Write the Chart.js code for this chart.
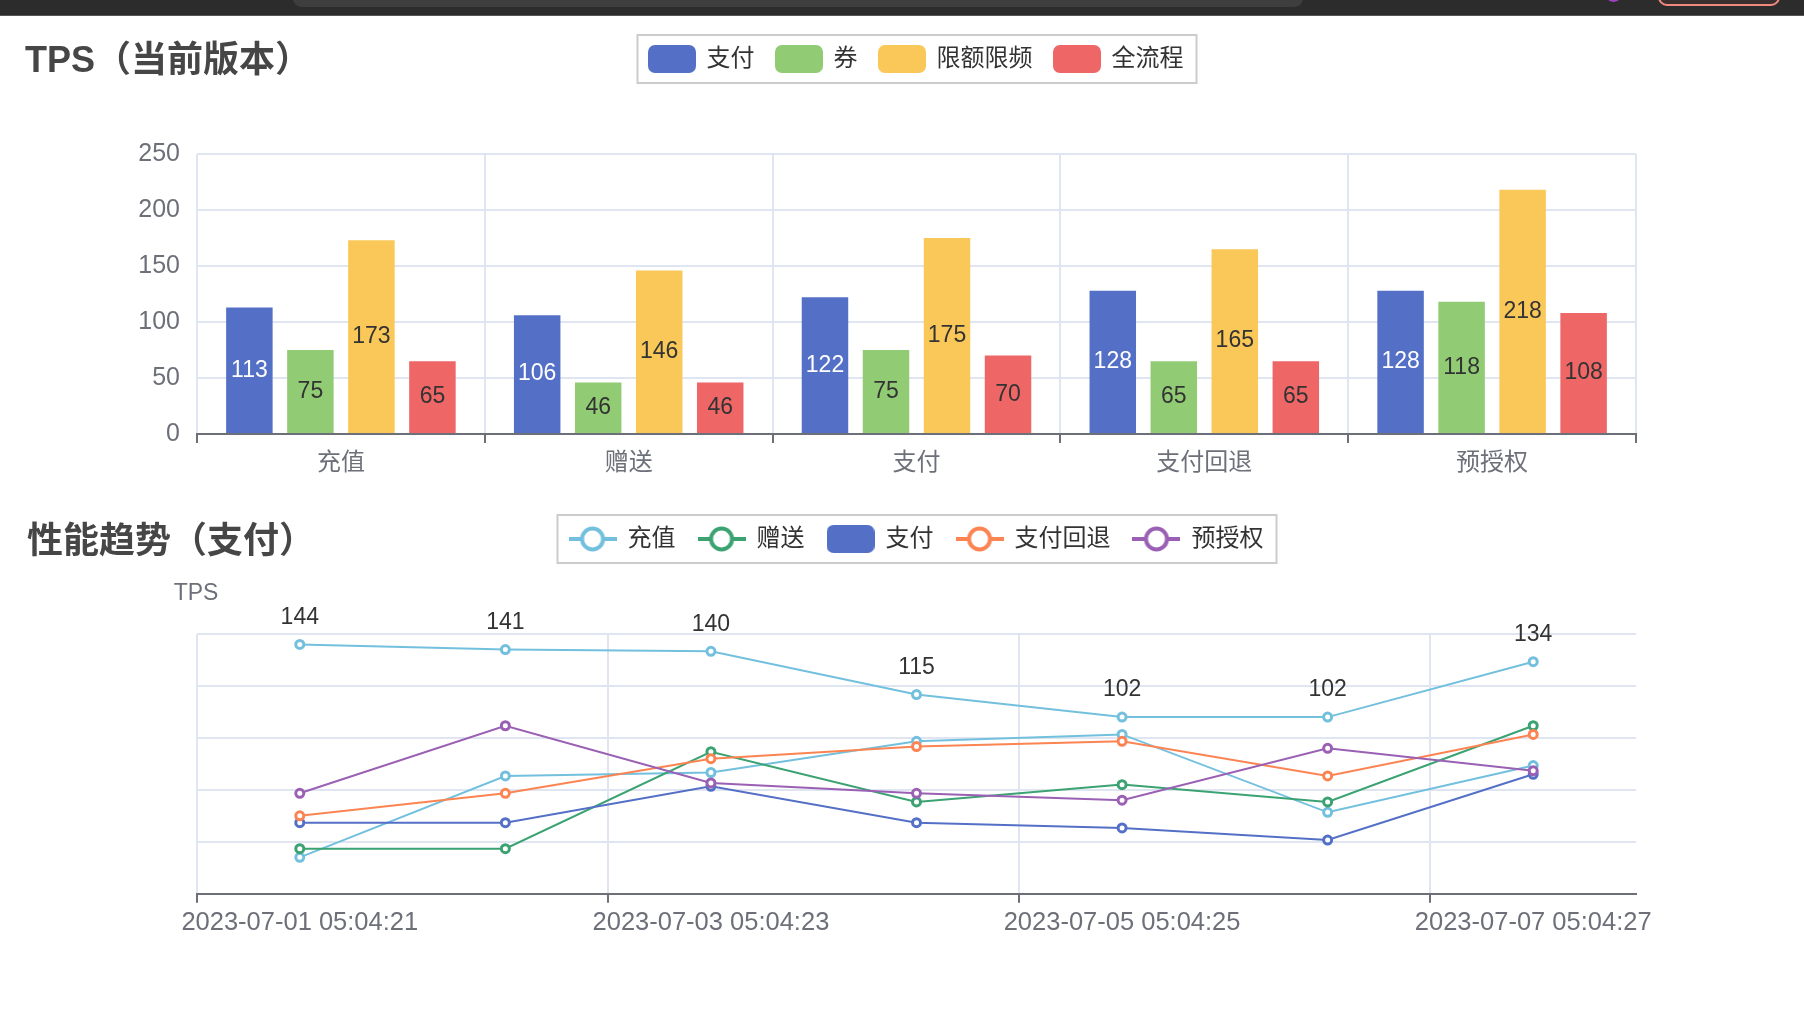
<!DOCTYPE html>
<html>
<head>
<meta charset="utf-8">
<script src="https://cdn.jsdelivr.net/npm/chart.js@4.4.0/dist/chart.umd.min.js"></script>
<style>
html,body{margin:0;padding:0;background:#fff;width:1804px;height:1015px;overflow:hidden;}
#chrome{position:absolute;left:0;top:0;width:1804px;height:16px;background:#2c2c2c;border-bottom:1px solid #555;box-sizing:border-box;z-index:3;overflow:hidden;}
#chrome .addr{position:absolute;left:293px;top:-10px;width:1010px;height:17px;background:#3e3e3e;border-radius:10px;}
#chrome .dot{position:absolute;left:1607px;top:-8px;width:13px;height:10px;background:#a040c0;border-radius:50%;}
#chrome .btn{position:absolute;left:1658px;top:-12px;width:122px;height:18px;background:#3a2f2f;border:2px solid #f08a80;border-radius:12px;box-sizing:border-box;}
#c1{position:absolute;left:0;top:0;}
#c2{position:absolute;left:0;top:490px;}
</style>
</head>
<body>
<div id="chrome"><div class="addr"></div><div class="dot"></div><div class="btn"></div></div>
<canvas id="c1" width="1804" height="490"></canvas>
<canvas id="c2" width="1804" height="525"></canvas>
<script>
// ---------- data: bar chart ----------
const barTitle = 'TPS（当前版本）';
const barCategories = ['充值', '赠送', '支付', '支付回退', '预授权'];
const barSeriesNames = ['支付', '券', '限额限频', '全流程'];
const barPay = [113, 106, 122, 128, 128];
const barCoupon = [75, 46, 75, 65, 118];
const barLimit = [173, 146, 175, 165, 218];
const barFlow = [65, 46, 70, 65, 108];
const barYMin = 0, barYMax = 250, barYStep = 50;

// ---------- data: trend chart ----------
const trendTitle = '性能趋势（支付）';
const trendAxisName = 'TPS';
const trendTimes = ['2023-07-01 05:04:21', '2023-07-02 05:04:22', '2023-07-03 05:04:23', '2023-07-04 05:04:24', '2023-07-05 05:04:25', '2023-07-06 05:04:26', '2023-07-07 05:04:27'];
const trendSeriesNames = ['充值', '赠送', '支付', '支付回退', '预授权'];
const trendRecharge = [21, 68, 70, 88, 92, 47, 74];
const trendGift = [26, 26, 82, 53, 63, 53, 97];
const trendPay = [41, 41, 62, 41, 38, 31, 69];
const trendRefund = [45, 58, 78, 85, 88, 68, 92];
const trendPreauth = [58, 97, 64, 58, 54, 84, 71];
const trendTotal = [144, 141, 140, 115, 102, 102, 134];
const trendYMin = 0, trendYMax = 150, trendYStep = 30;

// ---------- styling ----------
const FONT = "'Liberation Sans','Noto Sans CJK SC',sans-serif";
Chart.defaults.font.family = FONT;
const AXIS = '#6e7079', GRID = '#e0e6f1';
const barColors = ['#5470c6', '#91cc75', '#fac858', '#ee6666'];
const barLabelColors = ['#ffffff', '#333333', '#333333', '#333333'];
const lineColors = ['#73c0de', '#3ba272', '#5470c6', '#fc8452', '#9a60b4'];

function roundRectPath(g, x, y, w, h, r) {
  g.beginPath();
  g.moveTo(x + r, y);
  g.lineTo(x + w - r, y); g.arcTo(x + w, y, x + w, y + r, r);
  g.lineTo(x + w, y + h - r); g.arcTo(x + w, y + h, x + w - r, y + h, r);
  g.lineTo(x + r, y + h); g.arcTo(x, y + h, x, y + h - r, r);
  g.lineTo(x, y + r); g.arcTo(x, y, x + r, y, r);
  g.closePath();
}
function rectIcon(color) {
  const c = document.createElement('canvas'); c.width = 48; c.height = 28;
  const g = c.getContext('2d'); g.fillStyle = color; roundRectPath(g, 0, 0, 48, 28, 7); g.fill();
  return c;
}
function lineIcon(color) {
  const c = document.createElement('canvas'); c.width = 48; c.height = 28;
  const g = c.getContext('2d');
  g.strokeStyle = color; g.lineWidth = 4;
  g.beginPath(); g.moveTo(0, 14); g.lineTo(48, 14); g.stroke();
  g.beginPath(); g.arc(24, 14, 10.5, 0, Math.PI * 2); g.fillStyle = '#fff'; g.fill(); g.stroke();
  return c;
}

// legend height override + frame
const legendFrame = {
  id: 'legendFrame',
  beforeLayout(chart, args, opts) {
    const lg = chart.legend;
    if (lg && !lg._patched) {
      const f = lg.fit;
      lg.fit = function () { f.call(this); this.height = opts.height; };
      lg._patched = true;
    }
  },
  afterDraw(chart, args, opts) {
    const hb = chart.legend && chart.legend.legendHitBoxes;
    if (!hb || !hb.length) return;
    const l = Math.min(...hb.map(h => h.left)) - opts.padLeft;
    const r = Math.max(...hb.map(h => h.left + h.width)) + opts.padRight;
    const cy = hb[0].top + hb[0].height / 2;
    const g = chart.ctx;
    g.save(); g.strokeStyle = '#cccccc'; g.lineWidth = 2;
    g.strokeRect(Math.round(l) + 0.5, Math.round(cy - 24), Math.round(r - l), 48);
    g.restore();
  }
};
const titleText = {
  id: 'titleText',
  afterDraw(chart, args, o) {
    const g = chart.ctx; g.save();
    g.font = 'bold 36px ' + FONT; g.fillStyle = '#464646';
    g.textBaseline = 'middle'; g.textAlign = 'left';
    g.fillText(o.text, o.x, o.y);
    if (o.axisName) {
      g.font = '23px ' + FONT; g.fillStyle = AXIS; g.textAlign = 'center';
      g.fillText(o.axisName, chart.chartArea.left - 1, chart.chartArea.top + o.axisNameDy);
    }
    g.restore();
  }
};
const valueLabels = {
  id: 'valueLabels',
  afterDatasetsDraw(chart, args, o) {
    const g = chart.ctx; g.save();
    g.font = o.size + 'px ' + FONT; g.textAlign = 'center'; g.textBaseline = 'middle';
    chart.data.datasets.forEach((ds, i) => {
      if (!ds.showValues) return;
      const meta = chart.getDatasetMeta(i);
      g.fillStyle = ds.valueColor;
      meta.data.forEach((el, j) => {
        const p = el.getProps(['x', 'y', 'base'], true);
        const y = o.mode === 'inside' ? (p.y + p.base) / 2 : p.y - o.dy;
        g.fillText(String(ds.data[j]), p.x, y);
      });
    });
    g.restore();
  }
};

// ---------- chart 1: bars ----------
const barData = [barPay, barCoupon, barLimit, barFlow];
const barIcons = barColors.map(rectIcon);
new Chart(document.getElementById('c1'), {
  type: 'bar',
  data: {
    labels: barCategories,
    datasets: barSeriesNames.map((name, i) => ({
      label: name, data: barData[i], backgroundColor: barColors[i],
      categoryPercentage: 0.848, barPercentage: 0.762,
      showValues: true, valueColor: barLabelColors[i]
    }))
  },
  options: {
    responsive: false, animation: false, devicePixelRatio: 1,
    layout: { padding: { top: 25, left: 0, right: 168, bottom: 10 } },
    scales: {
      x: {
        offset: true,
        grid: { offset: true, color: GRID, lineWidth: 2, tickColor: AXIS, tickLength: 9, tickWidth: 2 },
        border: { color: AXIS, width: 2 },
        ticks: { color: AXIS, font: { size: 24 }, padding: 6, maxRotation: 0, minRotation: 0 },
        afterFit: s => { s.height = 46; }
      },
      y: {
        min: barYMin, max: barYMax,
        ticks: { stepSize: barYStep, color: AXIS, font: { size: 25 }, padding: 17 },
        grid: { color: c => (c.tick && c.tick.value === 0 ? 'rgba(0,0,0,0)' : GRID), lineWidth: 2, drawTicks: false },
        border: { display: false },
        afterFit: s => { s.width = 197; }
      }
    },
    plugins: {
      tooltip: { enabled: false },
      legend: {
        position: 'top', align: 'center', fullSize: false,
        labels: {
          usePointStyle: true, pointStyleWidth: 45, padding: 22, color: '#333',
          font: { size: 24 },
          generateLabels: chart => Chart.defaults.plugins.legend.labels.generateLabels(chart)
            .map(it => Object.assign(it, { pointStyle: barIcons[it.datasetIndex] }))
        }
      },
      legendFrame: { height: 129, padLeft: 13, padRight: 12 },
      titleText: { text: barTitle, x: 25, y: 62 },
      valueLabels: { mode: 'inside', size: 23 }
    }
  },
  plugins: [legendFrame, titleText, valueLabels]
});

// ---------- chart 2: lines ----------
const trendData = [trendRecharge, trendGift, trendPay, trendRefund, trendPreauth];
const trendIcons = [lineIcon(lineColors[0]), lineIcon(lineColors[1]), rectIcon(lineColors[2]), lineIcon(lineColors[3]), lineIcon(lineColors[4])];
const lineBase = { borderWidth: 2, pointRadius: 4, pointHoverRadius: 4, pointBorderWidth: 3, pointBackgroundColor: '#fff', tension: 0, fill: false };
const trendDatasets = trendSeriesNames.map((name, i) => Object.assign({}, lineBase, {
  label: name, data: trendData[i], borderColor: lineColors[i], pointBorderColor: lineColors[i], backgroundColor: lineColors[i], order: 10 - i
}));
trendDatasets.push(Object.assign({}, lineBase, {
  label: trendAxisName, data: trendTotal, borderColor: lineColors[0], pointBorderColor: lineColors[0], backgroundColor: lineColors[0],
  order: 1, hideInLegend: true, showValues: true, valueColor: '#333'
}));
const shownTick = i => i % 2 === 0 || i === trendTimes.length;
new Chart(document.getElementById('c2'), {
  type: 'line',
  data: { labels: trendTimes, datasets: trendDatasets },
  options: {
    responsive: false, animation: false, devicePixelRatio: 1,
    layout: { padding: { top: 14, left: 0, right: 168, bottom: 71.3 } },
    scales: {
      x: {
        offset: true,
        grid: {
          offset: true, lineWidth: 2, tickLength: 9, tickWidth: 2,
          color: c => (shownTick(c.index) ? GRID : 'rgba(0,0,0,0)'),
          tickColor: c => (shownTick(c.index) ? AXIS : 'rgba(0,0,0,0)')
        },
        border: { color: AXIS, width: 2 },
        ticks: {
          autoSkip: false, maxRotation: 0, minRotation: 0, color: AXIS, font: { size: 25.5 }, padding: 5,
          callback: function (v, i) { return i % 2 === 0 ? this.getLabelForValue(v) : ''; }
        },
        afterFit: s => { s.height = 50; }
      },
      y: {
        min: trendYMin, max: trendYMax,
        ticks: { stepSize: trendYStep, display: false },
        grid: { color: c => (c.tick && c.tick.value === 0 ? 'rgba(0,0,0,0)' : GRID), lineWidth: 2, drawTicks: false },
        border: { display: false },
        afterFit: s => { s.width = 197; }
      }
    },
    plugins: {
      tooltip: { enabled: false },
      legend: {
        position: 'top', align: 'center', fullSize: false,
        labels: {
          usePointStyle: true, pointStyleWidth: 46, padding: 23, color: '#333',
          font: { size: 24 },
          filter: (it, data) => !data.datasets[it.datasetIndex].hideInLegend,
          sort: (a, b) => a.datasetIndex - b.datasetIndex,
          generateLabels: chart => Chart.defaults.plugins.legend.labels.generateLabels(chart)
            .map(it => Object.assign(it, { pointStyle: trendIcons[it.datasetIndex] || trendIcons[0] }))
        }
      },
      legendFrame: { height: 130, padLeft: 13, padRight: 12 },
      titleText: { text: trendTitle, x: 27, y: 53, axisName: trendAxisName, axisNameDy: -40 },
      valueLabels: { mode: 'above', dy: 27, size: 23 }
    }
  },
  plugins: [legendFrame, titleText, valueLabels]
});
</script>
</body>
</html>
